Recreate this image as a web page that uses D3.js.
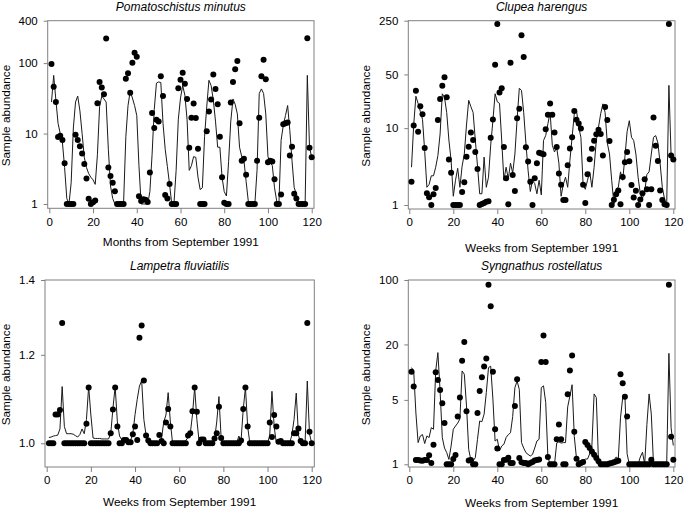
<!DOCTYPE html>
<html><head><meta charset="utf-8">
<script src="https://cdn.jsdelivr.net/npm/d3@7"></script>
<style>body{margin:0;background:#fff} svg{display:block} text{font-family:"Liberation Sans",Arial,sans-serif;fill:#000}</style>
</head><body><svg id="c" width="685" height="512"></svg>
<script>
// time index (months / weeks from September 1991)
const timeIdx = d3.range(1, 121);

const pomPoints = [97,46,28,8.9,9.3,8.1,3.8,1,1,1,
 1,9.6,8.1,6.6,5.2,3.7,2.3,1.19,1.0,1.06,
 1.12,27,54,45,36,224,3.3,2.5,2.0,1.52,
 1,1,1,1,60,72,38,101,140,123,
 1.29,1.1,1.17,1.15,1.07,2.8,19.5,12,15.7,14.8,
 65,34,1.34,1.2,1.92,1,1,1,44,58,
 73,51,31,6.3,16.7,26.7,16.6,6.1,1,1,
 1,10.8,20.6,30.5,69,43,26,9,2.4,1.04,
 1,1,27.6,54,82,107,14,4.1,4.4,2.6,
 1,1,1,1,4.1,16.7,65,112,59,3.9,
 4.1,4.0,2.25,1,1,1.36,13.6,14,14.3,4.9,
 6.5,1.4,1.2,1,1,1,1,225,6.3,4.6];
const pomLine = [28,67,30,14,10,7.5,3.3,1.2,1,2,
 12,28,34,21,10,4.6,3.3,2.7,2.4,2.2,
 1.9,5,24,34,31,28,6,1.8,1.2,1,
 1,1,1,1.1,9,25,40,32,25,18,
 3.5,1,1,1,1,1.5,5,22,52,54,
 53,14,6,3.4,1.9,1,1,3,16,32,
 48,35,16,3,3.5,4.7,4.6,2.4,1.6,1.7,
 9,24,57,48,30,15,6.4,6.4,2.4,1.5,
 1.3,4,15,31,26,19,6.4,4.7,4.2,2.1,
 1.1,1,1,1,3,37,43,37,19,4.7,
 3.9,3.5,1.7,1.1,1,8,13,18,25,11,
 4.1,1.7,1.4,1,1,1,1,67,6.4,4.6];

const clupPoints = [2.0,10.8,30.7,9.0,19.2,15.2,5.5,1.42,1.26,1,
 1.38,1.66,12.8,24,35.5,46,25.2,3.9,2.62,1,
 1,1,1,1.48,1.98,4.25,5.72,8.8,7.0,4.9,
 2.95,1,1.03,1.06,1.1,1.12,7.5,13,67,227,
 29,33,5.7,2.23,1.02,71,2.46,1.52,13.5,17.9,
 162,84,5.65,3.67,2.0,1,2.23,3.5,4.77,4.67,
 4.58,9.7,14.9,21,14.9,8.8,5.7,2.57,1.83,1.16,
 1.16,3.3,5.45,7.6,16.7,12.9,11.5,9.9,1.83,1.06,
 2.52,3.95,5.4,6.85,8.3,9.5,8.4,4.4,18.8,12.8,
 6.8,1,1.17,1.38,1.54,1.02,2.32,3.6,4.9,3.72,
 1.82,1.25,1.53,1,1.18,1.42,2.16,1.6,1,1.6,
 13.8,5.9,3.75,1.54,1.16,1.02,1,227,4.4,3.9];
const clupLine = [3.1,11,26,21,16.5,13,5,1.7,1.85,2.4,
 2.4,3.1,4.4,8.4,28,25,16,7,3.8,1.3,
 2.1,3,1.7,3.2,4.6,11,23,19,16,7,
 3.2,1.4,1.4,4.2,1.7,2.3,6,12.5,28,22,
 21,7,2.1,3.1,2.2,3.5,2.6,4.6,13,33,
 31,16,6.4,2.8,1.5,2.1,1.9,1.4,2.1,1.35,
 6.9,8,11.4,16,6,4.9,5.6,3.5,1.3,1.85,
 2.3,1.7,3.8,7.6,15.4,17,10.3,7.6,1.85,1.6,
 2.1,2.7,1.7,3.1,6.9,10.3,15.4,20.7,16,6.4,
 4.6,2.1,1.03,1.6,1.7,2.7,2.1,4.2,9,12.5,
 7.6,6.9,4.6,2.3,1.4,1.22,1.5,2.5,2.7,4.6,
 7.6,8,6.4,3.5,1.7,1.2,1,36,4.4,4.2];

const lampPoints = [1,1,1,1.061,1.061,1.071,1.281,1,1,1,
 1,1,1,1,1,1,1,1.041,1.122,1,
 1,1,1,1,1,1,1,1,1.021,1.072,
 1.122,1.035,1,1,1.007,1.007,1.002,1.002,1.019,1.035,
 1.007,1.243,1.275,1.138,1.016,1.006,1,1,1,1,
 1.017,1.005,1,1.044,1.073,1.035,1,1,1,1,
 1,1,1,1.016,1.021,1.068,1.122,1.067,1,1.008,
 1.008,1,1,1,1,1.01,1.021,1.078,1.011,1,
 1,1,1,1,1,1,1,1.006,1.073,1.122,
 1.035,1,1,1,1,1,1,1,1,1,
 1.044,1.013,1.06,1.035,1.003,1.005,1,1,1,1,
 1,1.021,1.021,1.031,1.005,1,1,1.281,1.024,1];
const lampLine = [1.012,1.013,1.015,1.016,1.017,1.03,1.124,1.035,1.02,1.02,
 1.02,1.019,1.016,1.013,1.018,1.03,1.02,1.05,1.124,1.06,
 1.011,1.01,1.01,1.01,1.009,1.009,1.009,1.009,1.02,1.075,
 1.124,1.045,1.015,1.007,1.007,1.008,1.005,1.006,1.02,1.061,
 1.095,1.125,1.138,1.05,1.017,1.005,1,1,1,1,
 1.004,1.01,1.045,1.06,1.11,1.045,1,1,1,1,
 1,1,1.006,1.012,1.02,1.06,1.122,1.05,1.004,1.008,
 1.008,1,1,1,1,1.008,1.045,1.101,1.01,1,
 1,1,1,1,1,1,1.015,1.005,1.073,1.122,
 1.035,1,1,1,1,1,1,1,1,1,
 1.017,1.113,1.035,1,1,1,1,1,1,1,
 1.017,1.05,1.109,1.017,1,1,1,1.137,1.02,1];

const syngPoints = [10.1,7.0,1.11,1.11,1.1,1.09,1.11,1.11,1.25,1.03,
 1.63,10,8.2,6.4,4.6,2.8,1,1,1,1.14,
 1.26,3.3,5.3,13.3,21.2,3.76,1.1,1.11,1,1,
 3.6,6.25,8.8,11.5,14.1,89,52,10.1,2.4,1.48,
 1,1,1.11,1.12,1.18,1.03,1.03,4.3,8.4,1.17,
 1.05,1.03,1.03,1,1.03,1.06,1.1,1.11,1.13,12.9,
 25,12.9,1.2,1,1,1,1.87,2.7,1.87,1,
 1,5.75,10.4,15.2,2.26,1.15,1,1.03,1.06,1.75,
 1.62,1.5,1.38,1.27,1.17,1.08,1,1,1,1,
 1.02,1.03,1.05,1.07,1.09,9.5,7.6,5.4,3.3,1,
 1,1,1,1,1,1,1,1,1,1.12,
 1,1,1,1,1,1,1,89,1.99,1.12];
const syngLine = [11.2,10.3,3.6,1.72,2.03,2.1,1.68,2.03,1.95,2.5,
 2.4,10.3,16.3,6.2,1.95,1.5,1.34,1.13,1.58,2.4,
 2.6,2.8,3.1,10.3,9.5,4.3,1.45,1.11,1.09,1.18,
 1.87,2.95,2.9,3.5,6,11.2,11.6,5.1,1.79,1.87,
 1.4,1.58,1.65,1.95,2.1,2.2,3.3,6.8,8,6.5,
 1.72,1.5,1.34,1.28,1.23,1.28,1.5,1.79,1.87,6.8,
 7.1,4.7,1.2,1,1,1,1.7,1.75,1.7,1.72,
 1.72,4.2,5.5,7.3,2,1.15,1.05,1.05,1.1,1.14,
 1.14,1.3,1.6,5.8,5.3,1.05,1,1,1,1,
 1,1,1.1,1.2,1.15,3.2,5.3,5.6,1.3,1,
 1,1,1,1,1.2,1.35,1,2.7,5.8,3.5,
 1,1,1,1,1,1,1,16,2.5,1.6];

const xTicks = [0,20,40,60,80,100,120];
const pomTicks = [1,10,100,400];
const clupTicks = [1,10,50,250];
const lampTicks = [1.0,1.2,1.4];
const syngTicks = [1,5,20,100];

const panels = [
 {title:"Pomatoschistus minutus", xlab:"Months from September 1991", pts:pomPoints, line:pomLine, ticks:pomTicks, fmt:d3.format("d"),
  frame:[47.7,20.7,314,208.3], xr:[49.3,311.7], ydom:[1,400], yr:[204,20.7], titleY:10.7, xlabY:246, ylabX:9.8, xpad:4.9},
 {title:"Clupea harengus", xlab:"Weeks from September 1991", pts:clupPoints, line:clupLine, ticks:clupTicks, fmt:d3.format("d"),
  frame:[408.3,20.7,675,209], xr:[409.3,673.3], ydom:[1,250], yr:[205,20.7], titleY:10.7, xlabY:251.5, ylabX:369.6, xpad:4.2},
 {title:"Lampetra fluviatilis", xlab:"Weeks from September 1991", pts:lampPoints, line:lampLine, ticks:lampTicks, fmt:d3.format(".1f"),
  frame:[45,280,314.3,467], xr:[46.7,311.7], ydom:[1,1.4], yr:[443.3,280], titleY:269.6, xlabY:506, ylabX:9.8, xpad:4.2},
 {title:"Syngnathus rostellatus", xlab:"Weeks from September 1991", pts:syngPoints, line:syngLine, ticks:syngTicks, fmt:d3.format("d"),
  frame:[408.3,280,675,467], xr:[409.3,673.3], ydom:[1,100], yr:[464.3,280], titleY:269.6, xlabY:506.5, ylabX:369.6, xpad:4.2}
];

const svg = d3.select("#c");
const gray = "#808080";

panels.forEach(p => {
  const [fl, ft, fr, fb] = p.frame;
  const x = d3.scaleLinear().domain([0,120]).range(p.xr);
  const y = d3.scaleLog().domain(p.ydom).range(p.yr);
  const g = svg.append("g");

  g.append("rect").attr("x", fl).attr("y", ft).attr("width", fr-fl).attr("height", fb-ft)
    .attr("fill","none").attr("stroke", gray).attr("stroke-width",1);

  const xa = g.append("g").attr("transform", `translate(0,${fb})`)
    .call(d3.axisBottom(x).tickValues(xTicks).tickSize(5).tickSizeOuter(0).tickPadding(p.xpad));
  xa.select(".domain").remove();
  xa.selectAll("line").attr("stroke", gray);
  xa.selectAll("text").attr("font-size", 11.5).attr("font-family", '"Liberation Sans",Arial,sans-serif').attr("fill","#000");

  const ya = g.append("g").attr("transform", `translate(${fl},0)`)
    .call(d3.axisLeft(y).tickValues(p.ticks).tickFormat(p.fmt).tickSize(4).tickSizeOuter(0).tickPadding(6));
  ya.select(".domain").remove();
  ya.selectAll("line").attr("stroke", gray);
  ya.selectAll("text").attr("font-size", 11.5).attr("font-family", '"Liberation Sans",Arial,sans-serif').attr("fill","#000");

  const line = d3.line().x((d,i) => x(timeIdx[i])).y(d => y(d));
  g.append("path").datum(p.line).attr("d", line).attr("fill","none")
    .attr("stroke","#1a1a1a").attr("stroke-width",1).attr("stroke-linejoin","round");

  g.selectAll("circle").data(p.pts).enter().append("circle")
    .attr("cx", (d,i) => x(timeIdx[i])).attr("cy", d => y(d)).attr("r", 3).attr("fill","#000");

  const cx = (fl+fr)/2, cy = (ft+fb)/2 + 1;
  g.append("text").attr("x", cx).attr("y", p.titleY).attr("text-anchor","middle")
    .attr("font-size", 12).attr("font-style","italic").text(p.title);
  g.append("text").attr("x", cx).attr("y", p.xlabY).attr("text-anchor","middle")
    .attr("font-size", 11.8).text(p.xlab);
  g.append("text").attr("transform", `translate(${p.ylabX},${cy}) rotate(-90)`).attr("text-anchor","middle")
    .attr("font-size", 11.8).text("Sample abundance");
});
</script></body></html>
